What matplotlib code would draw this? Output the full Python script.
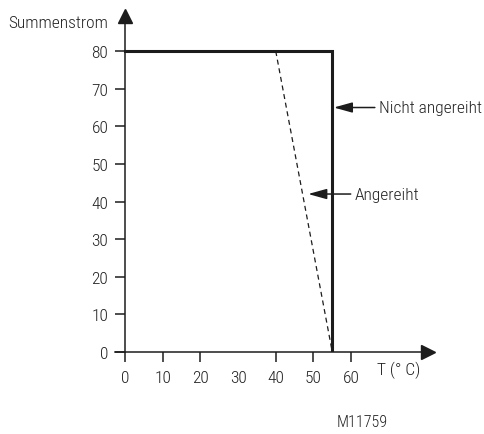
import matplotlib
matplotlib.use('Agg')
import matplotlib.pyplot as plt

plt.rcParams['font.family'] = ['Liberation Sans Narrow', 'Roboto Condensed', 'DejaVu Sans']
plt.rcParams['font.stretch'] = 'condensed'
plt.rcParams['font.weight'] = 'light'
plt.rcParams['font.size'] = 12.5
plt.rcParams['text.color'] = '#222222'

# data
x_ticks = [0, 10, 20, 30, 40, 50, 60]
y_ticks = [0, 10, 20, 30, 40, 50, 60, 70, 80]
solid_x = [0, 55, 55]          # nicht angereiht
solid_y = [80, 80, 0]
dashed_x = [40, 55]            # angereiht
dashed_y = [80, 0]
label_solid = 'Nicht angereiht'
label_dashed = 'Angereiht'
solid_arrow = (55.4, 65)
solid_text = (67.4, 65)
dashed_arrow = (48.6, 42)
dashed_text = (61.0, 42)

ink = '#1c1c1c'

fig = plt.figure(figsize=(4.84, 4.35), dpi=100)
ax = fig.add_axes([0.2372, 0.1885, 0.6471, 0.7713])

ax.plot(solid_x, solid_y, color=ink, lw=2.2, solid_joinstyle='miter', zorder=3)
ax.plot(dashed_x, dashed_y, color=ink, lw=0.9, dashes=(4, 3), zorder=3)

ax.set_xlim(-2.7, 80.4)
ax.set_ylim(0, 89.2)

for s in ['top', 'right']:
    ax.spines[s].set_visible(False)
ax.spines['left'].set_position(('data', 0))
ax.spines['bottom'].set_position(('data', 0))
for s in ['left', 'bottom']:
    ax.spines[s].set_linewidth(1.1)
    ax.spines[s].set_color(ink)

# axis arrow heads
ax.plot(1, 0, '>', color=ink, ms=10, transform=ax.get_yaxis_transform(), clip_on=False)
ax.plot(0, 1, '^', color=ink, ms=10, transform=ax.get_xaxis_transform(), clip_on=False)

ax.set_xticks(x_ticks)
ax.set_yticks(y_ticks)
ax.tick_params(direction='out', length=7, width=1.1, color=ink, labelcolor='#222222', labelsize=12.5)
ax.tick_params(axis='x', pad=6)
ax.tick_params(axis='y', pad=5)
# no tick mark at 30 in the original
ax.xaxis.get_major_ticks()[3].tick1line.set_visible(False)

arrow_kw = dict(arrowstyle='-|>,head_length=0.9,head_width=0.25', color=ink, lw=1.1,
                shrinkA=1, shrinkB=0)
ax.annotate(label_solid, xy=solid_arrow, xytext=solid_text, va='center', ha='left',
            arrowprops=arrow_kw)
ax.annotate(label_dashed, xy=dashed_arrow, xytext=dashed_text, va='center', ha='left',
            arrowprops=arrow_kw)

fig.text(0.0165, 0.945, 'Summenstrom', va='center', ha='left')
fig.text(0.779, 0.149, 'T (° C)', va='center', ha='left')
fig.text(0.696, 0.0276, 'M11759', va='center', ha='left', fontsize=11.5)

fig.savefig('out.png', dpi=100)
